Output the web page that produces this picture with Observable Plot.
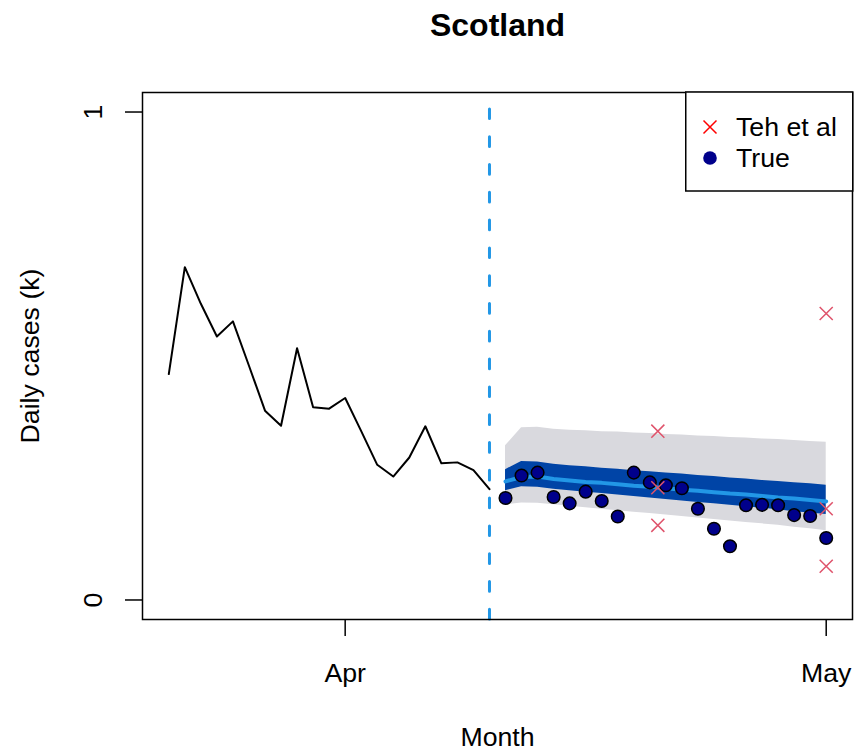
<!DOCTYPE html>
<html>
<head>
<meta charset="utf-8">
<script src="https://cdn.jsdelivr.net/npm/d3@7"></script>
<script src="https://cdn.jsdelivr.net/npm/@observablehq/plot@0.6"></script>
<style>
  html, body { margin: 0; padding: 0; background: #fff; }
  #chart { position: relative; width: 855px; height: 753px; }
  #chart svg { display: block; }
</style>
</head>
<body>
<div id="chart"></div>
<script>
// ---------- data ----------
const histDates = ["2020-03-21","2020-03-22","2020-03-23","2020-03-24","2020-03-25","2020-03-26","2020-03-27",
  "2020-03-28","2020-03-29","2020-03-30","2020-03-31","2020-04-01","2020-04-02","2020-04-03","2020-04-04",
  "2020-04-05","2020-04-06","2020-04-07","2020-04-08","2020-04-09","2020-04-10"];
const histCases = [0.463,0.682,0.607,0.540,0.571,0.480,0.388,0.357,0.516,0.395,0.392,
  0.414,0.346,0.277,0.253,0.292,0.356,0.280,0.282,0.266,0.227];

const fcDates = ["2020-04-11","2020-04-12","2020-04-13","2020-04-14","2020-04-15","2020-04-16","2020-04-17",
  "2020-04-18","2020-04-19","2020-04-20","2020-04-21","2020-04-22","2020-04-23","2020-04-24","2020-04-25",
  "2020-04-26","2020-04-27","2020-04-28","2020-04-29","2020-04-30","2020-05-01"];
const trueCases = [0.209,0.255,0.261,0.211,0.198,0.222,0.203,0.171,0.261,0.241,0.235,
  0.229,0.187,0.146,0.110,0.194,0.195,0.194,0.174,0.172,0.127];
const medianCases = [0.243,0.252,0.253,0.248,0.245,0.242,0.240,0.237,0.234,0.232,0.229,
  0.226,0.224,0.221,0.218,0.216,0.213,0.210,0.208,0.205,0.202];
const innerLo = [0.224,0.232,0.231,0.227,0.224,0.221,0.218,0.215,0.212,0.209,0.206,
  0.203,0.200,0.197,0.194,0.191,0.188,0.185,0.181,0.178,0.175];
const innerHi = [0.267,0.284,0.283,0.278,0.275,0.273,0.270,0.268,0.265,0.263,0.260,
  0.258,0.255,0.253,0.250,0.248,0.245,0.243,0.240,0.238,0.235];
const outerLo = [0.195,0.199,0.198,0.195,0.192,0.189,0.186,0.183,0.180,0.177,0.174,
  0.171,0.168,0.165,0.162,0.159,0.156,0.153,0.149,0.146,0.142];
const outerHi = [0.316,0.353,0.354,0.350,0.348,0.347,0.345,0.344,0.342,0.341,0.339,
  0.338,0.336,0.335,0.333,0.332,0.330,0.329,0.327,0.325,0.323];

const tehDates = ["2020-04-20T12:00","2020-04-20T12:00","2020-04-20T12:00",
  "2020-05-01T00:00","2020-05-01T00:00","2020-05-01T00:00"];
const tehCases = [0.346,0.230,0.153,0.587,0.187,0.069];

const cutoffDate = "2020-04-10";
const xTickDates = ["2020-04-01","2020-05-01"];
const xTickLabels = ["Apr","May"];
const yTicks = [0, 1];
const yDomain = [-0.04, 1.04];

const legendLabels = ["Teh et al", "True"];
const titleText = "Scotland";
const xLabel = "Month";
const yLabel = "Daily cases (k)";

// ---------- build ----------
const FONT = "'Liberation Sans', Arial, Helvetica, sans-serif";
const W = 855, H = 753, mL = 142, mR = 3, mT = 92, mB = 134;
const parse = s => new Date(s.length === 10 ? s + "T00:00Z" : s + "Z");

const hist = histDates.map((d, i) => ({date: parse(d), cases: histCases[i]}));
const fc = fcDates.map((d, i) => ({
  date: parse(d), truth: trueCases[i], med: medianCases[i],
  lo50: innerLo[i], hi50: innerHi[i], lo95: outerLo[i], hi95: outerHi[i]
}));
const teh = tehDates.map((d, i) => ({date: parse(d), cases: tehCases[i]}));
const xTicks = xTickDates.map(parse);

const [d0, d1] = d3.extent([...hist, ...fc].map(d => d.date));
const pad = (d1 - d0) * 0.04;
const xDomain = [new Date(+d0 - pad), new Date(+d1 + pad)];

const txt = {textAnchor: "middle", lineAnchor: "middle", fontSize: 26.7, fill: "black"};

const chart = Plot.plot({
  width: W, height: H,
  marginLeft: mL, marginRight: mR, marginTop: mT, marginBottom: mB,
  style: {fontFamily: FONT, fontSize: "26.7px", color: "black", background: "white", overflow: "visible"},
  x: {type: "utc", domain: xDomain, axis: null},
  y: {domain: yDomain, axis: null},
  marks: [
    Plot.areaY(fc, {x: "date", y1: "lo95", y2: "hi95", fill: "#D9D9DE"}),
    Plot.areaY(fc, {x: "date", y1: "lo50", y2: "hi50", fill: "#0044A6"}),
    Plot.lineY(fc, {x: "date", y: "med", stroke: "#2297E6", strokeWidth: 4}),
    Plot.lineY(hist, {x: "date", y: "cases", stroke: "black", strokeWidth: 2}),
    Plot.ruleX([parse(cutoffDate)], {x: d => d, y1: () => yDomain[0], y2: () => yDomain[1],
      stroke: "#2297E6", strokeWidth: 3, strokeDasharray: "9.7,18.1", strokeLinecap: "round"}),
    Plot.dot(fc, {x: "date", y: "truth", r: 6.3, fill: "#00008B", stroke: "black", strokeWidth: 1.5}),
    Plot.dot(teh, {x: "date", y: "cases", symbol: "times", r: 6, stroke: "#DF536B", strokeWidth: 1.5}),
    Plot.frame({stroke: "black", strokeWidth: 1.5}),
    Plot.axisX({ticks: xTicks, tickSize: 17, tickPadding: 27, strokeWidth: 1.5,
      tickFormat: d => xTickLabels[xTicks.findIndex(t => +t === +d)], fontSize: 26.7, label: null}),
    Plot.axisY({ticks: yTicks, tickSize: 17, strokeWidth: 1.5, tickFormat: () => "", label: null}),
    Plot.text(yTicks, {...txt, y: d => d, text: d => String(d), frameAnchor: "left", dx: -49, rotate: -90}),
    Plot.text([yLabel], {...txt, frameAnchor: "left", dx: -112, rotate: -90}),
    Plot.text([xLabel], {...txt, frameAnchor: "bottom", dy: 118}),
    Plot.text([titleText], {...txt, frameAnchor: "top", dy: -67, fontSize: 32, fontWeight: "bold"})
  ]
});
const root = document.getElementById("chart");
root.appendChild(chart);

// ---------- legend (top-right, inside frame) ----------
const LW = 167, LH = 99;
const leg = d3.select(root).append("svg")
  .attr("width", LW + 2).attr("height", LH + 2)
  .style("position", "absolute")
  .style("left", (W - mR - LW) + "px")
  .style("top", (mT - 1) + "px")
  .style("font-family", FONT);
leg.append("rect").attr("x", 0.75).attr("y", 1).attr("width", LW).attr("height", LH)
  .attr("fill", "white").attr("stroke", "black").attr("stroke-width", 1.5);
const s = 6.5;
leg.append("path").attr("d", `M${25 - s},${36 - s}L${25 + s},${36 + s}M${25 - s},${36 + s}L${25 + s},${36 - s}`)
  .attr("stroke", "#FF0000").attr("stroke-width", 1.5).attr("fill", "none");
leg.append("circle").attr("cx", 25).attr("cy", 67).attr("r", 6.8).attr("fill", "#00008B");
leg.selectAll("text.lab").data(legendLabels).join("text")
  .attr("x", 51).attr("y", (d, i) => 45 + i * 31)
  .attr("font-size", 26.7).attr("fill", "black").text(d => d);
</script>
</body>
</html>
